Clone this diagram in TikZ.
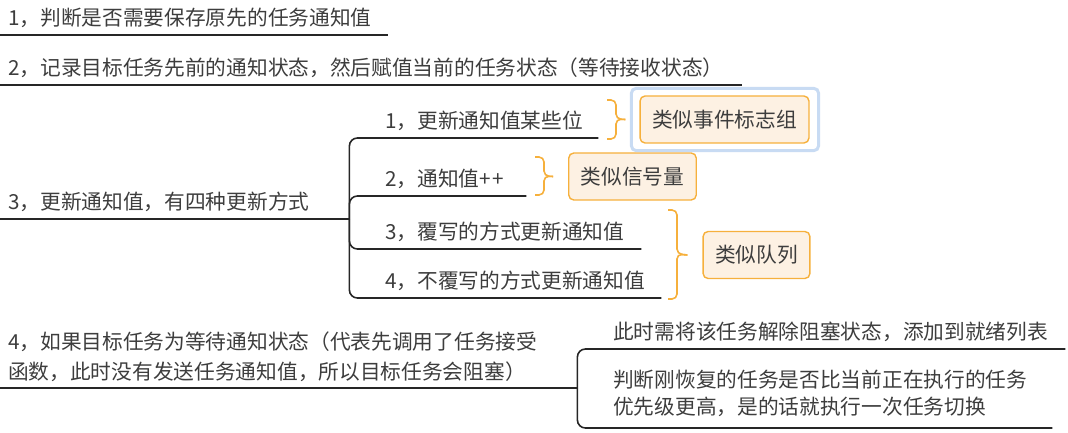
\documentclass[tikz,border=0pt]{standalone}
\usepackage{fontspec}
\setmainfont{Noto Sans CJK SC}
\definecolor{txt}{HTML}{3D3D3D}
\definecolor{ink}{HTML}{262626}
\definecolor{ora}{HTML}{F6B03C}
\definecolor{orafill}{HTML}{FDF1E3}
\definecolor{selblue}{HTML}{C8DBF3}

\begin{document}
\begin{tikzpicture}[x=1pt,y=-1pt,
		line/.style={draw=ink,line width=1.6pt},
		topic/.style={anchor=south west,inner xsep=8pt,inner ysep=4pt,align=left,text=txt,font=\fontsize{20.7}{30}\selectfont},
		one/.style={text height=15pt,text depth=5pt},
		idea/.style={draw=ora,fill=orafill,line width=1.4pt,rounded corners=5pt,inner xsep=12pt,minimum height=47pt,text=txt,font=\fontsize{20.7}{30}\selectfont},
		brace/.style={draw=ora,line width=1.6pt,rounded corners=5pt},
		sel/.style={draw=selblue,line width=3pt,rounded corners=5pt}]
		  \useasboundingbox (0,0) rectangle (1068,433);
		  \node[topic,one,text width=372pt] (t1) at (0,35) {1，判断是否需要保存原先的任务通知值};
		  \node[topic,one,text width=726pt] (t2) at (0,85) {2，记录目标任务先前的通知状态，然后赋值当前的任务状态（等待接收状态）};
		  \node[topic,one,text width=333pt] (t3) at (0,219) {3，更新通知值，有四种更新方式};
		  \node[topic,one,text width=205pt] (s1) at (377,138) {1，更新通知值某些位};
		  \node[topic,one,text width=133pt] (s2) at (377,196) {2，通知值+\kern2pt+};
		  \node[topic,one,text width=248pt] (s3) at (377,249) {3，覆写的方式更新通知值};
		  \node[topic,one,text width=268pt] (s4) at (377,298) {4，不覆写的方式更新通知值};
		  \node[topic,inner ysep=6pt,text width=561pt] (t4) at (0,388) {4，如果目标任务为等待通知状态（代表先调用了任务接受\\函数，此时没有发送任务通知值，所以目标任务会阻塞）};
		  \node[topic,one,text width=444pt] (r1) at (605,349) {此时需将该任务解除阻塞状态，添加到就绪列表};
		  \node[topic,inner ysep=11pt,text width=431pt,font=\fontsize{20.7}{27}\selectfont] (r2) at (605,428) {判断刚恢复的任务是否比当前正在执行的任务\\优先级更高，是的话就执行一次任务切换};
		  \node[idea] (b1) at (724.5,119.5) {类似事件标志组};
		  \node[idea] (b2) at (632.5,176.5) {类似信号量};
		  \node[idea] (b3) at (756.5,255) {类似队列};
		  \draw[sel] ([shift={(-8,-7)}]b1.north west) rectangle ([shift={(9,7)}]b1.south east);
		  \draw[line] (t1.south west) -- (t1.south east);
		  \draw[line] (t2.south west) -- (t2.south east);
		  \draw[line] (t3.south west) -- (t3.south east);
		  \draw[line] (t4.south west) -- (t4.south east);
		  \foreach \s in {s1,s2,s3,s4}
		    \draw[line,rounded corners=8pt] (t3.south east) |- (\s.south west) -- (\s.south east);
		  \foreach \s in {r1,r2}
		    \draw[line,rounded corners=8pt] (t4.south east) |- (\s.south west) -- (\s.south east);
		  \draw[brace] (607,100) -- (616,100) -- (616,119) -- ([xshift=-14pt]b1.west);
		  \draw[brace] (607,139) -- (616,139) -- (616,119) -- ([xshift=-14pt]b1.west);
		  \draw[brace] (535,157) -- (544,157) -- (544,176) -- ([xshift=-15pt]b2.west);
		  \draw[brace] (535,195) -- (544,195) -- (544,176) -- ([xshift=-15pt]b2.west);
		  \draw[brace] (668,210) -- (677,210) -- (677,254) -- ([xshift=-15pt]b3.west);
		  \draw[brace] (668,299) -- (677,299) -- (677,254) -- ([xshift=-15pt]b3.west);
		\end{tikzpicture}
\end{document}
